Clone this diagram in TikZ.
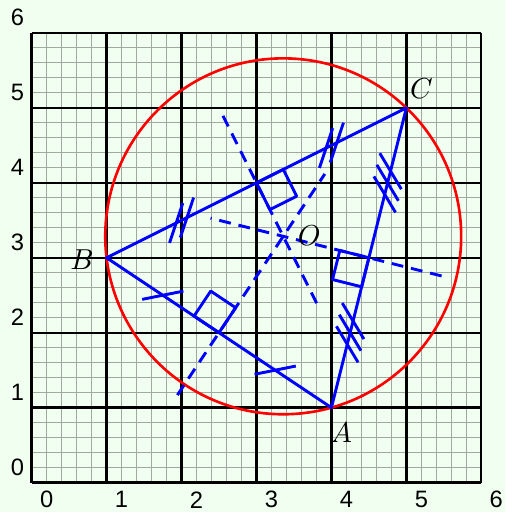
\documentclass[tikz,border=0pt]{standalone}
\usepackage{fontspec}
\setsansfont{Liberation Sans}
\definecolor{paper}{RGB}{240,255,240}
\definecolor{minorgrid}{RGB}{160,168,160}

\begin{document}
\begin{tikzpicture}[
    side/.style={blue,line width=1.1pt,line join=round},
    bis/.style={blue,line width=1.1pt,dash pattern=on 4.5pt off 3pt},
    hatch/.style={blue,line width=1.1pt},
    axislab/.style={font=\sffamily\fontsize{9}{11}\selectfont},
    ptlab/.style={font=\fontsize{11}{13}\selectfont}]
  \fill[paper] (-0.422,-0.387) rectangle (6.310,6.438);
  \draw[minorgrid,line width=0.4pt] (0,0) grid[step=0.2] (6,6);
  \draw[black,line width=0.9pt] (0,0) grid[step=1] (6,6);
  \node[axislab] (xl0) at (0.2,-0.23) {0};
  \node[axislab] (xl1) at (1.2,-0.23) {1};
  \node[axislab] (xl2) at (2.2,-0.23) {2};
  \node[axislab] (xl3) at (3.2,-0.23) {3};
  \node[axislab] (xl4) at (4.2,-0.23) {4};
  \node[axislab] (xl5) at (5.2,-0.23) {5};
  \node[axislab] (xl6) at (6.2,-0.23) {6};
  \node[axislab] (yl0) at (-0.19,0.21) {0};
  \node[axislab] (yl1) at (-0.19,1.21) {1};
  \node[axislab] (yl2) at (-0.19,2.21) {2};
  \node[axislab] (yl3) at (-0.19,3.21) {3};
  \node[axislab] (yl4) at (-0.19,4.21) {4};
  \node[axislab] (yl5) at (-0.19,5.21) {5};
  \node[axislab] (yl6) at (-0.19,6.21) {6};
  % vertices and circumcentre
  \coordinate (A) at (4,1);
  \coordinate (B) at (1,3);
  \coordinate (C) at (5,5);
  \coordinate (O) at (3.357,3.286);
  \draw[red,line width=1pt] (O) circle (2.3744);
  % perpendicular bisectors
  \draw[bis] (2.553,4.894) -- (3.804,2.391);
  \draw[bis] (5.470,2.757) -- (2.387,3.528);
  \draw[bis] (1.945,1.168) -- (3.912,4.118);
  % right angles
  \draw[side] (2.500,2.000) -- (2.167,2.222) -- (2.389,2.555) -- (2.722,2.333) -- cycle;
  \draw[side] (3.000,4.000) -- (3.358,4.179) -- (3.537,3.821) -- (3.179,3.642) -- cycle;
  \draw[side] (4.500,3.000) -- (4.403,2.612) -- (4.015,2.709) -- (4.112,3.097) -- cycle;
  % equal halves
  \draw[hatch] (1.475,2.445) -- (2.025,2.555);
  \draw[hatch] (2.975,1.445) -- (3.525,1.555);
  \draw[hatch] (1.840,3.198) -- (2.017,3.730);
  \draw[hatch] (1.984,3.270) -- (2.161,3.802);
  \draw[hatch] (3.840,4.198) -- (4.017,4.730);
  \draw[hatch] (3.984,4.270) -- (4.161,4.802);
  \draw[hatch] (4.855,3.605) -- (4.567,4.085);
  \draw[hatch] (4.894,3.760) -- (4.606,4.240);
  \draw[hatch] (4.933,3.915) -- (4.645,4.395);
  \draw[hatch] (4.355,1.605) -- (4.067,2.085);
  \draw[hatch] (4.394,1.760) -- (4.106,2.240);
  \draw[hatch] (4.433,1.915) -- (4.145,2.395);
  % triangle
  \draw[side] (A) -- (B) -- (C) -- cycle;
  \node[ptlab] (labA) at (4.132,0.669) {$A$};
  \node[ptlab] (labB) at (0.673,2.977) {$B$};
  \node[ptlab] (labC) at (5.201,5.250) {$C$};
  \node[ptlab] (labO) at (3.703,3.296) {$O$};
\end{tikzpicture}
\end{document}
